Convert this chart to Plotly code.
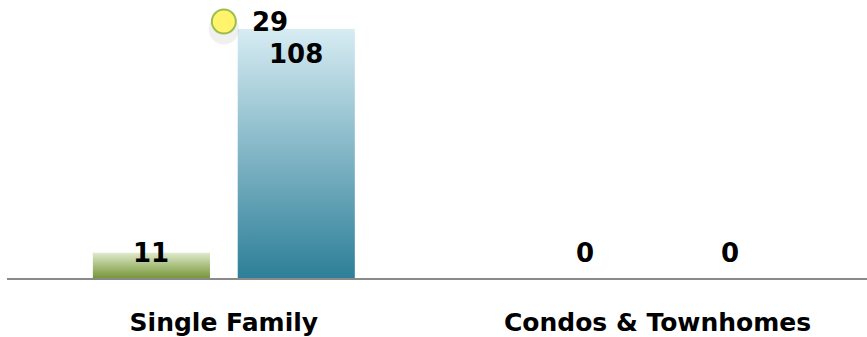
import plotly.graph_objects as go

# Sales by property type
categories = ["Single Family", "Condos & Townhomes"]
closed_sales = [11, 0]          # green bars
active_listings = [108, 0]      # blue bars
pending_marker = [29, None]     # yellow marker (secondary axis)

FONT = "DejaVu Sans"
BAR_W = 0.27
OFFSET = 0.167

PLOT_H = 268                    # plot area height in px
Y1_MAX = 116.2
Y2_MAX = 30.3
PX_PER_UNIT = PLOT_H / Y1_MAX

series = [
    (closed_sales, -OFFSET, [[0, "#779739"], [1, "#dfeacb"]]),
    (active_listings, OFFSET, [[0, "#2d7f98"], [1, "#d7ecf3"]]),
]

fig = go.Figure()

# bars drawn as gradient-filled rectangles built from the values
for values, off, cscale in series:
    for i, v in enumerate(values):
        if not v:
            continue
        x0, x1 = i + off - BAR_W / 2, i + off + BAR_W / 2
        fig.add_trace(go.Scatter(
            x=[x0, x1, x1, x0, x0], y=[0, 0, v, v, 0],
            mode="lines", line=dict(width=0), fill="toself",
            fillgradient=dict(type="vertical", colorscale=cscale),
            hoverinfo="skip", showlegend=False,
        ))

label_font = dict(family=FONT, size=26, color="#000000", weight="bold")

# value labels: just inside the top of the bar, kept above the base line
for values, off, _ in series:
    for i, v in enumerate(values):
        h = v * PX_PER_UNIT
        shift = -25 if h - 25 > 25 else 25 - h
        fig.add_annotation(
            x=i + off, y=v, yshift=shift, text=str(v), showarrow=False,
            font=label_font,
        )

# soft shadow under the marker
fig.add_trace(go.Scatter(
    x=[0, 1], y=[v - 0.9 if v is not None else None for v in pending_marker],
    yaxis="y2", mode="markers",
    marker=dict(size=30, color="rgba(110,110,110,0.10)", line=dict(width=0)),
    hoverinfo="skip", showlegend=False,
))
fig.add_trace(go.Scatter(
    x=[0, 1], y=pending_marker, yaxis="y2", mode="markers",
    marker=dict(size=24, color="#fff46c", line=dict(width=2, color="#9cbf4c")),
    hoverinfo="skip", showlegend=False, cliponaxis=False,
))
for i, v in enumerate(pending_marker):
    if v is None:
        continue
    fig.add_annotation(
        x=i, y=v, yref="y2", xanchor="left", xshift=26, text=str(v),
        showarrow=False, font=label_font,
    )

fig.update_layout(
    width=867, height=337,
    margin=dict(l=7, r=0, t=10, b=59),
    paper_bgcolor="white", plot_bgcolor="white",
    showlegend=False,
    xaxis=dict(
        range=[-0.5, 1.483], tickvals=[0, 1], ticktext=categories,
        showgrid=False, zeroline=False, showline=True,
        linecolor="#8a8a8a", linewidth=2, ticks="", ticklabelstandoff=21,
        tickfont=dict(family=FONT, size=25, color="#000000", weight="bold"),
    ),
    yaxis=dict(range=[0, Y1_MAX], visible=False, showgrid=False, zeroline=False),
    yaxis2=dict(range=[0, Y2_MAX], overlaying="y", visible=False,
                showgrid=False, zeroline=False),
)

fig.write_html("out.html")
